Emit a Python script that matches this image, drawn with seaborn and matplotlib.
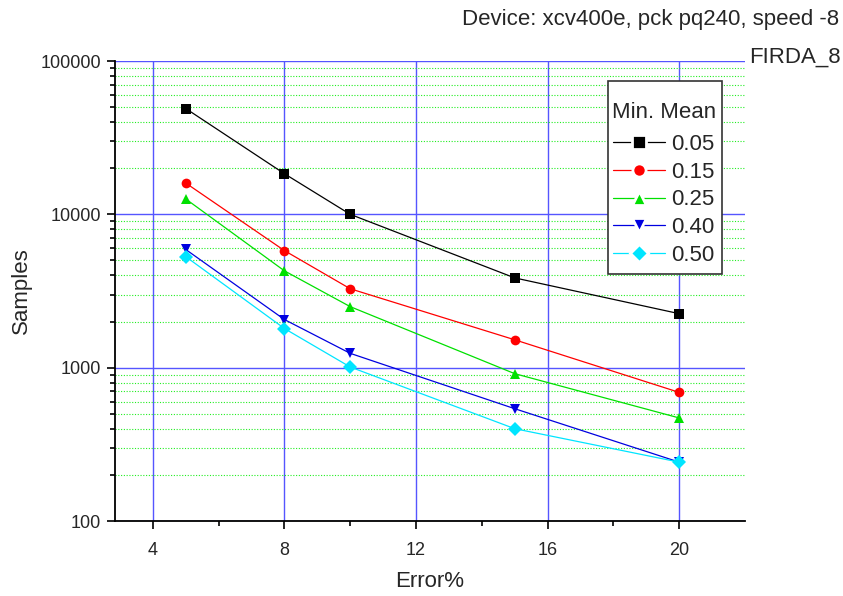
import matplotlib
matplotlib.use("Agg")
import matplotlib.pyplot as plt
import seaborn as sns
import pandas as pd
from matplotlib.ticker import LogLocator, FixedLocator, NullFormatter
from matplotlib.lines import Line2D
from matplotlib.patches import Rectangle

errors = [5, 8, 10, 15, 20]
means = ["0.05", "0.15", "0.25", "0.40", "0.50"]
s_005 = [49000, 18400, 10000, 3850, 2250]
s_015 = [16000, 5800, 3270, 1520, 690]
s_025 = [12600, 4280, 2500, 914, 470]
s_040 = [5900, 2060, 1240, 540, 242]
s_050 = [5300, 1800, 1010, 400, 242]
series = [s_005, s_015, s_025, s_040, s_050]
colors = ["#000000", "#ff0000", "#00e000", "#0000e0", "#00e5ff"]
markers = ["s", "o", "^", "v", "D"]
x_ticks = [4, 8, 12, 16, 20]
y_ticks = [100, 1000, 10000, 100000]
y_labels = ["100", "1000", "10000", "100000"]

rows = []
for m, vals in zip(means, series):
    for e, v in zip(errors, vals):
        rows.append({"Error%": e, "Samples": v, "Min. Mean": m})
df = pd.DataFrame(rows)

sns.set_style("white")
plt.rcParams["font.family"] = ["Liberation Sans", "DejaVu Sans"]

W, H = 843, 596
fig = plt.figure(figsize=(8.43, 5.96), dpi=100)
ax = fig.add_axes([115 / W, 1 - 521 / H, 630 / W, 460 / H])

sns.lineplot(data=df, x="Error%", y="Samples", hue="Min. Mean", style="Min. Mean",
             palette=colors, markers=markers, dashes=False, linewidth=0.9,
             markersize=7, markeredgewidth=0, ax=ax, legend=False, zorder=3)
ax.set_yscale("log")
ax.set_xlim(2.85, 22)
ax.set_ylim(100, 100000)

ax.xaxis.set_major_locator(FixedLocator(x_ticks))
ax.xaxis.set_minor_locator(FixedLocator([6, 10, 14, 18]))
ax.yaxis.set_major_locator(FixedLocator(y_ticks))
ax.yaxis.set_minor_locator(LogLocator(base=10, subs=range(2, 10), numticks=20))
ax.yaxis.set_minor_formatter(NullFormatter())
ax.set_yticklabels(y_labels)

ax.grid(True, which="major", color="#5555ff", linewidth=1.0, zorder=1)
ax.grid(True, which="minor", axis="y", color="#22ee22", linestyle=(0, (1, 1.5)), linewidth=0.8, zorder=1)
ax.grid(False, which="minor", axis="x")
ax.set_axisbelow(True)

for s in ["top", "right"]:
    ax.spines[s].set_visible(False)
for s in ["left", "bottom"]:
    ax.spines[s].set_color("black")
    ax.spines[s].set_linewidth(1.3)

ax.tick_params(axis="both", which="major", direction="out", length=6, width=1.2,
               labelsize=13, color="black", left=True, bottom=True, pad=4)
ax.tick_params(axis="x", which="major", pad=9)
ax.tick_params(axis="both", which="minor", direction="out", length=3.5, width=1.2,
               color="black", left=True, bottom=True)

ax.set_xlabel("Error%", fontsize=16, labelpad=9)
ax.set_ylabel("Samples", fontsize=16, labelpad=6)

fig.text(0.995, 1 - 20 / H, "Device: xcv400e, pck pq240, speed -8", ha="right", va="center", fontsize=16)
fig.text(0.997, 1 - 57 / H, "FIRDA_8", ha="right", va="center", fontsize=16)

# legend box
box = Rectangle((608 / W, 1 - 274 / H), 114 / W, 193 / H, transform=fig.transFigure,
                facecolor="white", edgecolor="#333333", linewidth=1.2, zorder=4)
fig.add_artist(box)

handles = [Line2D([], [], color=c, marker=mk, linewidth=0.9, markersize=9.5,
                  markeredgewidth=2.0, markeredgecolor="white", markerfacecolor=c)
           for c, mk in zip(colors, markers)]
leg = fig.legend(handles, means, title="Min. Mean", loc="upper left",
                 bbox_to_anchor=(612 / W, 1 - 102 / H), bbox_transform=fig.transFigure,
                 fontsize=16, title_fontsize=16, frameon=False,
                 handlelength=2.3, borderpad=0, labelspacing=0.3,
                 handletextpad=0.3, borderaxespad=0)
leg.set_zorder(5)
leg._legend_box.sep = 8

fig.savefig("out.png", dpi=100)
